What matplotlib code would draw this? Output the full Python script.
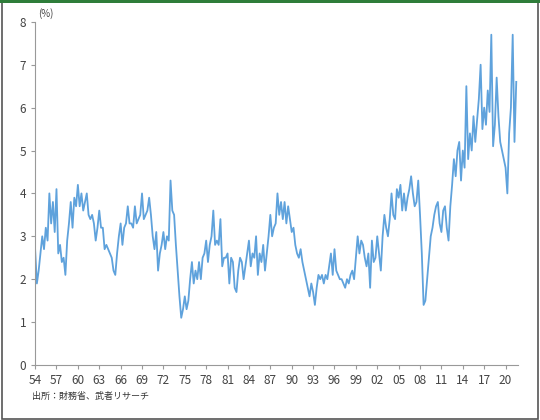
import matplotlib
matplotlib.use("Agg")
import matplotlib.pyplot as plt
import numpy as np

plt.rcParams['font.family'] = ['Noto Sans CJK JP', 'DejaVu Sans']

start_year = 1954
values = [
    2.7,1.9,2.2,2.6, 3.0,2.7,3.2,2.9, 4.0,3.3,3.8,3.1, 4.1,2.6,2.8,2.4,
    2.5,2.1,2.9,3.3, 3.8,3.2,3.9,3.7, 4.2,3.7,4.0,3.6, 3.8,4.0,3.5,3.4,
    3.5,3.3,2.9,3.2, 3.6,3.2,3.2,2.7, 2.8,2.7,2.6,2.5, 2.2,2.1,2.6,3.0,
    3.3,2.8,3.2,3.3, 3.7,3.3,3.3,3.2, 3.7,3.3,3.4,3.5, 4.0,3.4,3.5,3.6,
    3.9,3.5,3.0,2.7, 3.1,2.2,2.6,2.8, 3.1,2.7,3.0,2.9, 4.3,3.6,3.5,2.8,
    2.2,1.6,1.1,1.3, 1.6,1.3,1.5,2.0, 2.4,1.9,2.2,2.0, 2.4,2.0,2.5,2.6,
    2.9,2.4,2.8,3.0, 3.6,2.8,2.9,2.8, 3.4,2.3,2.5,2.5, 2.6,1.9,2.5,2.4,
    1.8,1.7,2.2,2.5, 2.4,2.0,2.3,2.6, 2.9,2.3,2.6,2.5, 3.0,2.1,2.6,2.4,
    2.8,2.2,2.6,3.0, 3.5,3.0,3.2,3.3, 4.0,3.5,3.8,3.4, 3.8,3.3,3.7,3.4,
    3.1,3.2,2.8,2.6, 2.5,2.7,2.4,2.2, 2.0,1.8,1.6,1.9, 1.7,1.4,1.8,2.1,
    2.0,2.1,1.9,2.1, 2.0,2.3,2.6,2.1, 2.7,2.2,2.1,2.0, 2.0,1.9,1.8,2.0,
    1.9,2.1,2.2,2.0, 2.5,3.0,2.6,2.9, 2.8,2.5,2.3,2.6, 1.8,2.9,2.4,2.5,
    3.0,2.6,2.2,3.0, 3.5,3.2,3.0,3.4, 4.0,3.5,3.4,4.1, 3.9,4.2,3.6,4.0,
    3.6,3.9,4.1,4.4, 4.0,3.7,3.8,4.3, 3.5,2.6,1.4,1.5, 2.0,2.5,3.0,3.2,
    3.5,3.7,3.8,3.3, 3.1,3.6,3.7,3.2, 2.9,3.7,4.2,4.8, 4.4,5.0,5.2,4.3,
    5.0,4.6,6.5,4.8, 5.4,5.0,5.8,5.2, 5.7,6.2,7.0,5.5, 6.0,5.6,6.4,5.9,
    7.7,5.1,5.6,6.7, 5.8,5.2,5.0,4.8, 4.6,4.0,5.4,6.0, 7.7,5.2,6.6,
]
tick_years = list(range(1954, 2021, 3))
tick_labels = [f"{y % 100:02d}" for y in tick_years]

x = start_year + np.arange(len(values)) / 4.0

fig = plt.figure(figsize=(5.4, 4.2), dpi=100)
fig.patches.append(plt.Rectangle((0.003, 0.003), 0.994, 0.994, transform=fig.transFigure,
                                 fill=False, edgecolor='#555555', linewidth=1.2))
fig.patches.append(plt.Rectangle((0.0, 0.993), 1.0, 0.007, transform=fig.transFigure,
                                 facecolor='#2e7d3a', edgecolor='none'))
ax = fig.add_axes([0.065, 0.131, 0.895, 0.817])
ax.plot(x, values, color='#5fa2dc', linewidth=1.3)
ax.set_xlim(1954, 2021.8)
ax.set_ylim(0, 8)
ax.set_yticks(range(0, 9))
ax.set_xticks(tick_years)
ax.set_xticklabels(tick_labels)
for s in ['top', 'right']:
    ax.spines[s].set_visible(False)
for s in ['left', 'bottom']:
    ax.spines[s].set_color('#999999')
ax.tick_params(colors='#444444', labelsize=8.5, length=3, color='#999999')
fig.text(0.07, 0.955, "(%)", fontsize=7, color='#444444', ha='left', va='bottom')
fig.text(0.06, 0.055, "出所：財務省、武者リサーチ", fontsize=6.5, color='#333333', ha='left', va='center')
fig.savefig("out.png", dpi=100)
